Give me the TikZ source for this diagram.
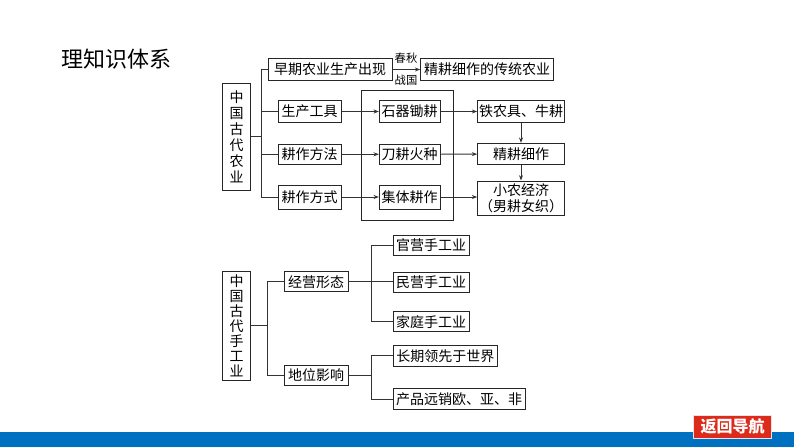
\documentclass[tikz,border=0pt]{standalone}
\usepackage{fontspec}
\setmainfont{Noto Sans CJK SC}
\usetikzlibrary{arrows.meta}
\definecolor{barblue}{HTML}{0070C0}
\definecolor{btnred}{HTML}{DD2A1B}
\tikzset{
  bx/.style={draw=black!85, line width=0.7pt, inner sep=0pt, align=center, font=\fontsize{10.5pt}{12pt}\selectfont, minimum height=15.5pt},
  vbx/.style={bx, minimum width=21pt},
  ln/.style={draw=black!80, line width=0.7pt},
  arr/.style={ln, -{Stealth[length=4pt,width=3pt]}},
  lbl/.style={font=\fontsize{8.5pt}{9pt}\selectfont, inner sep=0pt},
}
\begin{document}
\begin{tikzpicture}[x=0.75pt,y=-0.75pt]
\useasboundingbox (0,0) rectangle (794,447);
\fill[white] (0,0) rectangle (794,447);
% title
\node[anchor=west, font=\fontsize{16.5pt}{18pt}\selectfont, inner sep=0pt] (title) at (61,59) {理知识体系};
% ---------- agriculture ----------
\node[vbx, minimum height=80pt, font=\fontsize{10.5pt}{12pt}\selectfont] (A) at (236.7,136.7) {中\\国\\古\\代\\农\\业};
\node[bx, minimum width=93pt, minimum height=16.5pt] (b1) at (330,69.5) {早期农业生产出现};
\node[bx, minimum width=99.5pt, minimum height=16pt] (b1r) at (487,69.5) {精耕细作的传统农业};
\draw[arr] (b1) -- (b1r);
\node[lbl] (t1) at (406,57.7) {春秋};
\node[lbl] (t2) at (406,80) {战国};
\node[bx, minimum width=47pt, minimum height=16pt] (b2) at (309.7,111.5) {生产工具};
\node[bx, minimum width=47pt, minimum height=15.5pt] (b3) at (309.7,154.3) {耕作方法};
\node[bx, minimum width=47pt, minimum height=18pt] (b4) at (309.7,197) {耕作方式};
\node[draw=black!85, line width=0.7pt, minimum width=68.7pt, minimum height=97.5pt, inner sep=0pt] (big) at (407.5,155.7) {};
\node[bx, minimum width=45.5pt, minimum height=16pt] (m1) at (409.7,111.5) {石器锄耕};
\node[bx, minimum width=45.5pt, minimum height=15.5pt] (m2) at (409.7,154.3) {刀耕火种};
\node[bx, minimum width=45.5pt, minimum height=18pt] (m3) at (409.7,197) {集体耕作};
\node[bx, minimum width=65pt, minimum height=16pt] (r1) at (521,111.5) {铁农具、牛耕};
\node[bx, minimum width=65pt, minimum height=16pt] (r2) at (521,154) {精耕细作};
\node[bx, minimum width=65pt, minimum height=26pt, font=\fontsize{10.5pt}{12.5pt}\selectfont] (r3) at (521,198.3) {小农经济\\（男耕女织）};
\coordinate (tA) at (261.7,136.7);
\draw[ln] (A.east) -- (tA);
\draw[ln] (b1.west) -| (b4.west -| tA) -- (b4.west);
\draw[ln] (b2.west -| tA) -- (b2.west);
\draw[ln] (b3.west -| tA) -- (b3.west);
\draw[arr] (b2) -- (m1);
\draw[arr] (b3) -- (m2);
\draw[arr] (b4) -- (m3);
\draw[arr] (m1) -- (r1);
\draw[arr] (m2) -- (r2);
\draw[arr] (m3.east) -- (m3.east -| r3.west);
\draw[arr] (r1) -- (r2);
\draw[arr] (r2) -- (r3);
% ---------- handicraft ----------
\node[vbx, minimum height=81.3pt, font=\fontsize{10.5pt}{11.3pt}\selectfont] (C) at (236.7,325.8) {中\\国\\古\\代\\手\\工\\业};
\node[bx, minimum width=48pt, minimum height=15pt] (d1) at (316,281.7) {经营形态};
\node[bx, minimum width=48pt, minimum height=15pt] (d2) at (316,375) {地位影响};
\node[bx, minimum width=57pt, minimum height=15pt] (e1) at (431.2,245) {官营手工业};
\node[bx, minimum width=57pt, minimum height=15pt] (e2) at (431.2,282.7) {民营手工业};
\node[bx, minimum width=57pt, minimum height=15pt] (e3) at (431.2,321.7) {家庭手工业};
\node[bx, minimum width=78pt, minimum height=16pt] (f1) at (445.3,355.8) {长期领先于世界};
\node[bx, minimum width=99pt, minimum height=16pt] (f2) at (459.2,399.2) {产品远销欧、亚、非};
\coordinate (tC) at (267.3,328);
\coordinate (tE) at (371.7,282);
\draw[ln] (C.east) -- (C.east -| tC);
\draw[ln] (d1.west) -| (d2.west -| tC) -- (d2.west);
\draw[ln] (d1.east) -- (d1.east -| e2.west);
\draw[ln] (e1.west) -| (e3.west -| tE) -- (e3.west);
\draw[ln] (d2.east) -- (d2.east -| tE);
\draw[ln] (f1.west) -| (f2.west -| tE) -- (f2.west);
% ---------- footer ----------
\fill[barblue] (0,432.3) rectangle (794,447);
\node[fill=btnred, draw=white!80!gray, line width=0.6pt, text=white, font=\bfseries\fontsize{12pt}{13pt}\selectfont, minimum width=58.8pt, minimum height=17.5pt, inner sep=0pt] (btn) at (732.5,426.7) {返回导航};
\end{tikzpicture}
\end{document}
